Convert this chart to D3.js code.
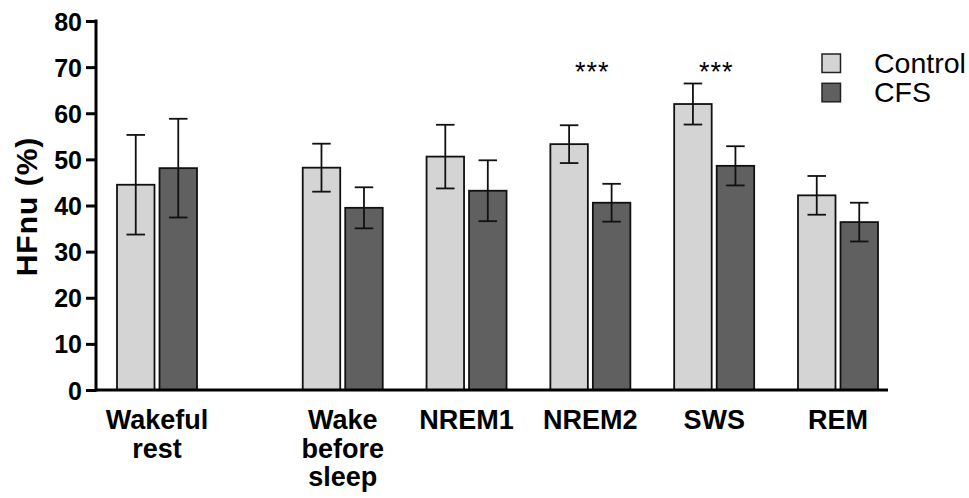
<!DOCTYPE html>
<html>
<head>
<meta charset="utf-8">
<script src="https://cdn.jsdelivr.net/npm/d3@7"></script>
<style>
  html, body { margin: 0; padding: 0; background: #fff; }
  svg { display: block; }
  text { font-family: "Liberation Sans", Arial, sans-serif; fill: #000; }
</style>
</head>
<body>
<svg id="chart" width="969" height="498"></svg>
<script>
// ---- data ----
const categories = ["Wakeful\nrest", "Wake\nbefore\nsleep", "NREM1", "NREM2", "SWS", "REM"];
const seriesNames = ["Control", "CFS"];
const controlMean = [44.5, 48.2, 50.6, 53.3, 62.0, 42.2];
const controlErr  = [10.8, 5.2, 6.9, 4.1, 4.45, 4.2];
const cfsMean     = [48.1, 39.5, 43.2, 40.6, 48.6, 36.4];
const cfsErr      = [10.7, 4.45, 6.6, 4.1, 4.25, 4.2];
const significance = ["", "", "", "***", "***", ""];
const yTicks = [0, 10, 20, 30, 40, 50, 60, 70, 80];
const yLabel = "HFnu (%)";

// ---- layout ----
const svg = d3.select("#chart");
const colors = ["#d4d4d4", "#606060"];
const axisX = 96, baseY = 390;

// slot position: first group separated from the others by an extra half slot
const slot = i => i + (i > 0 ? 0.5 : 0);
const x = d3.scaleLinear().domain([0, 5.5]).range([157, 838]);
const y = d3.scaleLinear().domain([0, 80]).range([baseY, 21]);

const barW = 37.5, gap = 5;
const series = [
  { name: seriesNames[0], mean: controlMean, err: controlErr, color: colors[0], off: -(gap / 2 + barW) },
  { name: seriesNames[1], mean: cfsMean, err: cfsErr, color: colors[1], off: gap / 2 }
];

// bars
series.forEach(s => {
  const g = svg.append("g");
  g.selectAll("rect").data(categories).join("rect")
    .attr("x", (d, i) => x(slot(i)) + s.off)
    .attr("y", (d, i) => y(s.mean[i]))
    .attr("width", barW)
    .attr("height", (d, i) => y(0) - y(s.mean[i]))
    .attr("fill", s.color)
    .attr("stroke", "#111")
    .attr("stroke-width", 1.8);
  // error bars
  const capW = 18.5;
  const eb = g.selectAll("g.eb").data(categories).join("g").attr("class", "eb");
  eb.append("line")
    .attr("x1", (d, i) => x(slot(i)) + s.off + barW / 2)
    .attr("x2", (d, i) => x(slot(i)) + s.off + barW / 2)
    .attr("y1", (d, i) => y(s.mean[i] + s.err[i]))
    .attr("y2", (d, i) => y(s.mean[i] - s.err[i]))
    .attr("stroke", "#111").attr("stroke-width", 1.8);
  [1, -1].forEach(sign => {
    eb.append("line")
      .attr("x1", (d, i) => x(slot(i)) + s.off + barW / 2 - capW / 2)
      .attr("x2", (d, i) => x(slot(i)) + s.off + barW / 2 + capW / 2)
      .attr("y1", (d, i) => y(s.mean[i] + sign * s.err[i]))
      .attr("y2", (d, i) => y(s.mean[i] + sign * s.err[i]))
      .attr("stroke", "#111").attr("stroke-width", 1.8);
  });
});

// y axis
const yAxis = d3.axisLeft(y).tickValues(yTicks).tickSize(10).tickPadding(4);
const gy = svg.append("g").attr("transform", `translate(${axisX},0)`).call(yAxis);
gy.select(".domain").attr("stroke", "#000").attr("stroke-width", 3)
  .attr("d", `M0,${y(80) - 1.5}V${baseY + 1.5}`);
gy.selectAll(".tick line").attr("stroke", "#000").attr("stroke-width", 3);
gy.selectAll(".tick text")
  .style("font-family", '"Liberation Sans", Arial, sans-serif')
  .style("font-size", "25px").style("font-weight", "bold")
  .attr("dy", "0.36em");

// x axis baseline
svg.append("line")
  .attr("x1", axisX).attr("x2", 888)
  .attr("y1", baseY).attr("y2", baseY)
  .attr("stroke", "#000").attr("stroke-width", 3);

// x labels
const xl = svg.append("g").selectAll("text").data(categories).join("text")
  .attr("x", (d, i) => x(slot(i)))
  .attr("y", 429)
  .attr("text-anchor", "middle")
  .style("font-size", "27px").style("font-weight", "bold");
xl.each(function (d) {
  const t = d3.select(this);
  const tx = t.attr("x");
  d.split("\n").forEach((line, k) => {
    t.append("tspan").attr("x", tx).attr("dy", k === 0 ? 0 : 28.5).text(line);
  });
});

// y label
svg.append("text")
  .attr("transform", "translate(37,206.5) rotate(-90)")
  .attr("text-anchor", "middle")
  .style("font-size", "30px").style("font-weight", "bold")
  .style("letter-spacing", "1px")
  .text(yLabel);

// significance
svg.append("g").selectAll("text").data(categories).join("text")
  .attr("x", (d, i) => x(slot(i)) + 2)
  .attr("y", 81)
  .attr("text-anchor", "middle")
  .style("font-size", "27px")
  .style("letter-spacing", "1px")
  .text((d, i) => significance[i]);

// legend
const lg = svg.append("g").attr("transform", "translate(822,54)");
series.forEach((s, k) => {
  lg.append("rect")
    .attr("x", 0).attr("y", k * 29.3)
    .attr("width", 18.5).attr("height", 18.5)
    .attr("fill", s.color).attr("stroke", "#222").attr("stroke-width", 1.5);
  lg.append("text")
    .attr("x", 52).attr("y", k * 29.3 + 18.5)
    .style("font-size", "28.5px")
    .text(s.name);
});
</script>
</body>
</html>
